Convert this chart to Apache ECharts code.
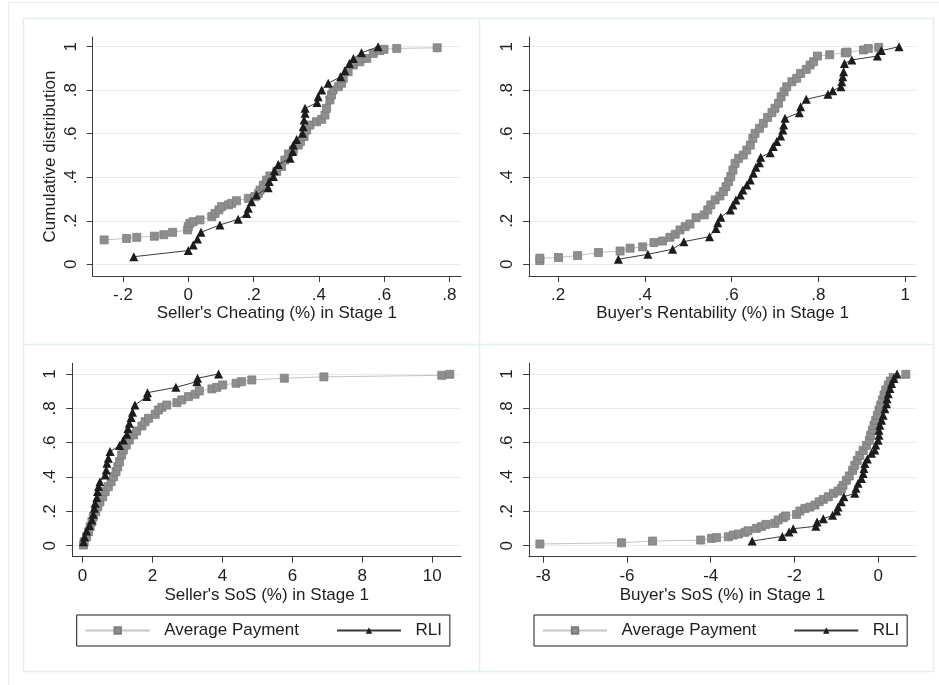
<!DOCTYPE html>
<html><head><meta charset="utf-8">
<script src="https://cdn.jsdelivr.net/npm/echarts@6/dist/echarts.min.js"></script>
<style>html,body{margin:0;padding:0;background:#fff}#c{width:939px;height:685px}</style>
</head><body><div id="c"></div>
<script>
// ---- data ----
var seriesNames = ['Average Payment', 'RLI'];
var yTicks = [0, 0.2, 0.4, 0.6, 0.8, 1];
var cheatTicks = [-0.2, 0, 0.2, 0.4, 0.6, 0.8];
var rentTicks = [0.2, 0.4, 0.6, 0.8, 1];
var sellerSosTicks = [0, 2, 4, 6, 8, 10];
var buyerSosTicks = [-8, -6, -4, -2, 0];
var axisTitles = ["Seller's Cheating (%) in Stage 1", "Buyer's Rentability (%) in Stage 1", "Seller's SoS (%) in Stage 1", "Buyer's SoS (%) in Stage 1"];
var yTitle = 'Cumulative distribution';

var cheatAvg = [[-0.258,0.112],[-0.189,0.119],[-0.158,0.124],[-0.104,0.129],[-0.075,0.136],[-0.048,0.147],[-0.002,0.158],[0,0.173],[0.005,0.188],[0.015,0.196],[0.036,0.204],[0.072,0.219],[0.082,0.234],[0.094,0.25],[0.102,0.265],[0.123,0.273],[0.133,0.28],[0.148,0.292],[0.184,0.303],[0.204,0.311],[0.215,0.326],[0.22,0.341],[0.23,0.364],[0.24,0.387],[0.25,0.406],[0.271,0.426],[0.286,0.449],[0.296,0.479],[0.307,0.507],[0.322,0.525],[0.337,0.548],[0.344,0.564],[0.355,0.587],[0.363,0.617],[0.373,0.64],[0.393,0.655],[0.409,0.666],[0.419,0.686],[0.424,0.717],[0.434,0.755],[0.439,0.778],[0.444,0.801],[0.46,0.816],[0.47,0.832],[0.475,0.855],[0.49,0.885],[0.506,0.916],[0.526,0.931],[0.547,0.946],[0.567,0.969],[0.587,0.982],[0.6,0.988],[0.639,0.992],[0.763,0.995]];
var cheatRli = [[-0.167,0.035],[0,0.063],[0.015,0.089],[0.028,0.116],[0.039,0.147],[0.097,0.181],[0.153,0.207],[0.179,0.234],[0.184,0.257],[0.194,0.288],[0.209,0.319],[0.245,0.352],[0.248,0.38],[0.261,0.403],[0.264,0.43],[0.276,0.459],[0.312,0.487],[0.32,0.518],[0.322,0.548],[0.332,0.574],[0.35,0.602],[0.352,0.632],[0.355,0.663],[0.358,0.694],[0.358,0.717],[0.395,0.743],[0.398,0.77],[0.409,0.801],[0.429,0.832],[0.467,0.862],[0.48,0.89],[0.494,0.923],[0.506,0.946],[0.531,0.972],[0.582,1.0]];

var rentAvg = [[0.158,0.017],[0.158,0.028],[0.201,0.031],[0.245,0.04],[0.293,0.054],[0.343,0.061],[0.366,0.074],[0.395,0.08],[0.421,0.1],[0.441,0.107],[0.458,0.124],[0.47,0.138],[0.481,0.158],[0.493,0.173],[0.504,0.185],[0.518,0.214],[0.537,0.227],[0.545,0.25],[0.552,0.273],[0.562,0.296],[0.573,0.314],[0.581,0.334],[0.587,0.357],[0.593,0.38],[0.598,0.403],[0.603,0.433],[0.608,0.464],[0.616,0.487],[0.627,0.502],[0.635,0.525],[0.643,0.548],[0.649,0.579],[0.654,0.602],[0.664,0.625],[0.673,0.648],[0.683,0.675],[0.693,0.697],[0.7,0.717],[0.708,0.74],[0.714,0.77],[0.721,0.793],[0.727,0.816],[0.739,0.839],[0.75,0.855],[0.759,0.877],[0.772,0.896],[0.781,0.916],[0.789,0.931],[0.798,0.957],[0.826,0.963],[0.862,0.972],[0.866,0.975],[0.904,0.985],[0.915,0.992],[0.939,0.997]];
var rentRli = [[0.339,0.023],[0.407,0.046],[0.464,0.069],[0.49,0.104],[0.549,0.127],[0.564,0.165],[0.568,0.191],[0.575,0.216],[0.597,0.25],[0.603,0.273],[0.61,0.296],[0.62,0.319],[0.626,0.341],[0.635,0.364],[0.643,0.387],[0.65,0.418],[0.656,0.446],[0.664,0.467],[0.667,0.492],[0.689,0.513],[0.696,0.541],[0.704,0.564],[0.713,0.59],[0.718,0.617],[0.72,0.64],[0.723,0.671],[0.756,0.697],[0.759,0.724],[0.772,0.758],[0.822,0.781],[0.833,0.798],[0.852,0.816],[0.854,0.839],[0.856,0.862],[0.858,0.885],[0.86,0.923],[0.877,0.939],[0.936,0.957],[0.945,0.982],[0.986,1.0]];

var sellerSosAvg = [[0.03,0.004],[0.05,0.023],[0.12,0.052],[0.17,0.081],[0.22,0.111],[0.27,0.14],[0.31,0.169],[0.38,0.198],[0.44,0.227],[0.5,0.256],[0.58,0.285],[0.65,0.315],[0.74,0.344],[0.82,0.373],[0.89,0.402],[0.96,0.431],[1.01,0.46],[1.06,0.489],[1.12,0.528],[1.17,0.557],[1.25,0.586],[1.34,0.615],[1.46,0.645],[1.55,0.668],[1.7,0.697],[1.79,0.722],[1.89,0.742],[2.08,0.765],[2.17,0.79],[2.27,0.806],[2.41,0.819],[2.7,0.833],[2.84,0.849],[3.03,0.868],[3.22,0.882],[3.34,0.901],[3.7,0.913],[3.84,0.922],[4.01,0.936],[4.39,0.946],[4.55,0.955],[4.84,0.965],[5.77,0.975],[6.9,0.983],[10.27,0.992],[10.5,0.998]];
var sellerSosRli = [[0.03,0.023],[0.06,0.052],[0.12,0.085],[0.2,0.117],[0.27,0.15],[0.31,0.183],[0.34,0.218],[0.36,0.247],[0.41,0.28],[0.43,0.315],[0.46,0.344],[0.5,0.373],[0.65,0.412],[0.68,0.441],[0.7,0.48],[0.74,0.509],[0.79,0.548],[1.06,0.583],[1.17,0.615],[1.27,0.649],[1.3,0.683],[1.34,0.713],[1.39,0.746],[1.43,0.777],[1.5,0.819],[1.84,0.868],[1.86,0.891],[2.67,0.922],[3.27,0.955],[3.29,0.975],[3.89,1.0]];

var buyerSosAvg = [[-8.08,0.01],[-6.13,0.017],[-5.39,0.027],[-4.24,0.033],[-3.98,0.043],[-3.86,0.047],[-3.58,0.052],[-3.46,0.062],[-3.34,0.068],[-3.18,0.078],[-3.11,0.087],[-2.91,0.101],[-2.79,0.111],[-2.68,0.124],[-2.47,0.13],[-2.39,0.15],[-2.27,0.163],[-2.21,0.173],[-1.95,0.182],[-1.87,0.202],[-1.75,0.217],[-1.63,0.225],[-1.51,0.237],[-1.41,0.256],[-1.31,0.27],[-1.19,0.285],[-1.07,0.305],[-0.96,0.318],[-0.88,0.332],[-0.84,0.351],[-0.76,0.381],[-0.69,0.406],[-0.61,0.439],[-0.56,0.468],[-0.5,0.497],[-0.44,0.526],[-0.36,0.555],[-0.28,0.584],[-0.21,0.614],[-0.18,0.643],[-0.14,0.672],[-0.1,0.701],[-0.06,0.73],[-0.02,0.759],[0.02,0.79],[0.06,0.819],[0.1,0.849],[0.14,0.878],[0.18,0.907],[0.24,0.936],[0.29,0.959],[0.36,0.979],[0.66,0.998]];
var buyerSosRli = [[-3.01,0.027],[-2.29,0.054],[-2.13,0.08],[-2.03,0.099],[-1.49,0.113],[-1.46,0.138],[-1.31,0.157],[-1.09,0.177],[-0.99,0.202],[-0.96,0.225],[-0.88,0.256],[-0.82,0.285],[-0.56,0.305],[-0.53,0.334],[-0.48,0.363],[-0.4,0.392],[-0.36,0.421],[-0.34,0.45],[-0.32,0.479],[-0.26,0.505],[-0.16,0.538],[-0.08,0.557],[-0.06,0.586],[0,0.614],[0.02,0.643],[0.02,0.672],[0.04,0.701],[0.08,0.73],[0.12,0.759],[0.16,0.798],[0.2,0.827],[0.21,0.856],[0.24,0.885],[0.28,0.915],[0.32,0.944],[0.37,0.973],[0.45,1.0]];

// ---- styles ----
var FONT = '"Liberation Sans", Arial, sans-serif';
var TXT = '#1e1e1e';
var AX = '#3c3c3c';
var GRIDC = '#e3edf0';
var FRAME = '#e4eef0';

function fmt(v) {
  var s = String(+(+v).toFixed(3));
  return s.replace(/^(-?)0\./, '$1.');
}

var grids = [
  {left: 92.7, top: 37, width: 368.3, height: 239},
  {left: 529, top: 37, width: 387, height: 239},
  {left: 72.3, top: 363.3, width: 388.7, height: 193.4},
  {left: 529, top: 363.3, width: 387, height: 193.4}
];

function xAx(i, min, max, ticks, gap) {
  return {
    gridIndex: i, type: 'value', min: min, max: max,
    name: axisTitles[i], nameLocation: 'middle', nameGap: gap,
    nameTextStyle: {fontSize: 17, color: TXT, fontFamily: FONT},
    axisLine: {show: true, onZero: false, lineStyle: {color: AX, width: 1}},
    axisTick: {show: true, length: 6, customValues: ticks, lineStyle: {color: AX, width: 1}},
    axisLabel: {customValues: ticks, formatter: fmt, fontSize: 17, color: TXT, fontFamily: FONT, margin: 11},
    splitLine: {show: false}
  };
}
function yAx(i, min, max, withName, margin) {
  var o = {
    gridIndex: i, type: 'value', min: min, max: max,
    axisLine: {show: true, onZero: false, lineStyle: {color: AX, width: 1}},
    axisTick: {show: true, length: 6, customValues: yTicks, lineStyle: {color: AX, width: 1}},
    axisLabel: {customValues: yTicks, formatter: fmt, rotate: 90, fontSize: 17, color: TXT, fontFamily: FONT, margin: margin},
    splitLine: {show: true, lineStyle: {color: GRIDC, width: 1}}
  };
  if (withName) {
    o.name = yTitle; o.nameLocation = 'middle'; o.nameGap = 34;
    o.nameTextStyle = {fontSize: 17, color: TXT, fontFamily: FONT};
  }
  return o;
}

function avgSeries(i, data) {
  return {
    name: seriesNames[0], type: 'line', xAxisIndex: i, yAxisIndex: i, data: data,
    symbol: 'rect', symbolSize: 8, showAllSymbol: true,
    lineStyle: {color: '#c4c4c4', width: 1},
    itemStyle: {color: '#8e8e8e', borderColor: '#7c7c7c', borderWidth: 0.8},
    emphasis: {disabled: true}, z: 2
  };
}
function rliSeries(i, data) {
  return {
    name: seriesNames[1], type: 'line', xAxisIndex: i, yAxisIndex: i, data: data,
    symbol: 'triangle', symbolSize: 9, showAllSymbol: true,
    lineStyle: {color: '#3a3a3a', width: 1},
    itemStyle: {color: '#1c1c1c'},
    emphasis: {disabled: true}, z: 3
  };
}

function legendAt(left) {
  return {
    left: left, top: 615, orient: 'horizontal',
    data: seriesNames, itemWidth: 64, itemHeight: 8, itemGap: 37,
    padding: [7, 8, 7, 8], borderColor: '#1a1a1a', borderWidth: 1, backgroundColor: '#fff',
    selectedMode: false,
    formatter: function (n) { return '  ' + n; },
    textStyle: {fontSize: 17, color: TXT, fontFamily: FONT}
  };
}

var chart = echarts.init(document.getElementById('c'), null, {renderer: 'canvas'});
chart.setOption({
  animation: false,
  backgroundColor: '#fff',
  grid: grids,
  xAxis: [
    xAx(0, -0.293, 0.836, cheatTicks, 28),
    xAx(1, 0.133, 1.025, rentTicks, 28),
    xAx(2, -0.29, 10.82, sellerSosTicks, 30),
    xAx(3, -8.34, 0.903, buyerSosTicks, 30)
  ],
  yAxis: [
    yAx(0, -0.0538, 1.0446, true, 13),
    yAx(1, -0.0538, 1.0446, false, 13),
    yAx(2, -0.064, 1.062, false, 13),
    yAx(3, -0.064, 1.062, false, 13)
  ],
  legend: [legendAt(76.7), legendAt(534)],
  series: [
    avgSeries(0, cheatAvg), rliSeries(0, cheatRli),
    avgSeries(1, rentAvg), rliSeries(1, rentRli),
    avgSeries(2, sellerSosAvg), rliSeries(2, sellerSosRli),
    avgSeries(3, buyerSosAvg), rliSeries(3, buyerSosRli)
  ],
  graphic: [
    {type: 'rect', silent: true, z: -10, shape: {x: 8.5, y: 2.5, width: 940, height: 700}, style: {fill: null, stroke: FRAME, lineWidth: 1}},
    {type: 'rect', silent: true, z: -10, shape: {x: 23.5, y: 18.5, width: 910, height: 653}, style: {fill: null, stroke: FRAME, lineWidth: 1.5}},
    {type: 'line', silent: true, z: -10, shape: {x1: 479.5, y1: 18.5, x2: 479.5, y2: 671.5}, style: {stroke: FRAME, lineWidth: 1.5}},
    {type: 'line', silent: true, z: -10, shape: {x1: 23.5, y1: 344.5, x2: 933.5, y2: 344.5}, style: {stroke: FRAME, lineWidth: 1.5}}
  ]
});
</script>
</body></html>
